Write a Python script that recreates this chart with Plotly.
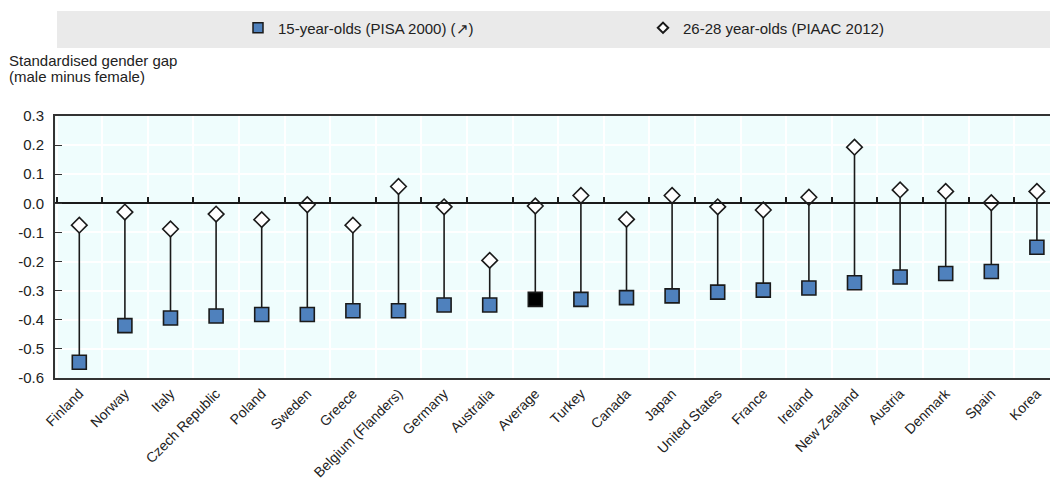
import plotly.graph_objects as go

categories = ["Finland", "Norway", "Italy", "Czech Republic", "Poland", "Sweden", "Greece",
              "Belgium (Flanders)", "Germany", "Australia", "Average", "Turkey", "Canada", "Japan",
              "United States", "France", "Ireland", "New Zealand", "Austria", "Denmark", "Spain", "Korea"]
pisa_2000 = [-0.546, -0.420, -0.394, -0.387, -0.382, -0.382, -0.369, -0.369, -0.349, -0.349,
             -0.330, -0.330, -0.324, -0.318, -0.305, -0.298, -0.291, -0.273, -0.253, -0.241, -0.234, -0.151]
piaac_2012 = [-0.075, -0.030, -0.088, -0.037, -0.056, -0.005, -0.075, 0.058, -0.012, -0.196,
              -0.009, 0.027, -0.055, 0.027, -0.012, -0.023, 0.021, 0.193, 0.046, 0.041, 0.002, 0.041]
y_ticks = [0.3, 0.2, 0.1, 0.0, -0.1, -0.2, -0.3, -0.4, -0.5, -0.6]
series_names = ["15-year-olds (PISA 2000) (\u2197)", "26-28 year-olds (PIAAC 2012)"]

FONT = "Liberation Sans Narrow, Arial Narrow, Liberation Sans, Arial, sans-serif"
BLUE = "#4F81BD"
INK = "#1a1a1a"
TXT = "#222222"

# figure geometry (pixels)
W, H = 1050, 478
ML, MT, MB = 55, 116, 100
PH = H - MT - MB
PW = W - ML


def py(pix):  # pixel y -> paper y
    return (H - MB - pix) / PH


def px(pix):  # pixel x -> paper x
    return (pix - ML) / PW


# stems
sx, sy = [], []
for c, a, b in zip(categories, pisa_2000, piaac_2012):
    sx += [c, c, None]
    sy += [a, b, None]

fig = go.Figure()
fig.add_trace(go.Scatter(x=sx, y=sy, mode="lines", line=dict(color=INK, width=1.6),
                         showlegend=False, hoverinfo="skip"))
sq_colors = ["#000000" if c == "Average" else BLUE for c in categories]
fig.add_trace(go.Scatter(x=categories, y=pisa_2000, mode="markers", name=series_names[0],
                         showlegend=False,
                         marker=dict(symbol="square", size=14, color=sq_colors,
                                     line=dict(color=INK, width=1.6))))
fig.add_trace(go.Scatter(x=categories, y=piaac_2012, mode="markers", name=series_names[1],
                         showlegend=False,
                         marker=dict(symbol="diamond", size=12, color="white",
                                     line=dict(color=INK, width=1.6))))
# legend-only entries (smaller symbols, as in the reference)
fig.add_trace(go.Scatter(x=[None], y=[None], mode="markers", name=series_names[0],
                         marker=dict(symbol="square", size=10, color=BLUE,
                                     line=dict(color=INK, width=1.5))))
fig.add_trace(go.Scatter(x=[None], y=[None], mode="markers", name=series_names[1],
                         marker=dict(symbol="diamond", size=8, color="white",
                                     line=dict(color=INK, width=2))))
# invisible trace on zero-line axis
fig.add_trace(go.Scatter(x=categories, y=[0] * len(categories), xaxis="x2", mode="markers",
                         marker=dict(opacity=0), showlegend=False, hoverinfo="skip"))

ymin, ymax = -0.6, 0.3
zero_frac = (0 - ymin) / (ymax - ymin)
cat_px = 45.6
x0 = -0.5 - 1.5 / cat_px
xrange = [x0, x0 + PW / cat_px]

fig.update_layout(
    width=W, height=H,
    margin=dict(l=ML, r=0, t=MT, b=MB, autoexpand=False),
    paper_bgcolor="white",
    plot_bgcolor="#EFFDFD",
    font=dict(family=FONT, size=15, color=TXT),
    showlegend=True,
    legend=dict(orientation="h", x=px(238), xanchor="left",
                y=py(28), yanchor="middle",
                bgcolor="rgba(0,0,0,0)", entrywidth=360, entrywidthmode="pixels",
                font=dict(family=FONT, size=15, color=TXT),
                itemsizing="trace", traceorder="normal"),
    xaxis=dict(type="category", categoryorder="array", categoryarray=categories,
               range=xrange, automargin=False,
               tickangle=-45, tickson="boundaries", ticks="", showgrid=True,
               gridcolor="white", gridwidth=1.5,
               showline=True, linecolor="#333333", linewidth=2, mirror=True,
               tickfont=dict(family=FONT, size=14, color=TXT),
               zeroline=False),
    xaxis2=dict(type="category", categoryorder="array", categoryarray=categories,
                range=xrange, overlaying="x", anchor="free",
                position=zero_frac, side="bottom", showticklabels=False,
                tickson="boundaries", ticks="inside", ticklen=5, tickwidth=1.5,
                tickcolor=INK, showline=True, linecolor=INK, linewidth=2,
                showgrid=False, zeroline=False),
    yaxis=dict(range=[ymin, ymax], tickvals=y_ticks, automargin=False,
               ticktext=[f"{v:.1f}" for v in y_ticks],
               ticks="inside", ticklen=7, tickcolor="#333333", ticklabelstandoff=6,
               showgrid=True, gridcolor="white", gridwidth=1.5,
               showline=True, linecolor="#333333", linewidth=2, mirror=False,
               zeroline=False, tickfont=dict(family=FONT, size=15, color=TXT)),
)

# legend background band
fig.add_shape(type="rect", xref="paper", yref="paper",
              x0=px(57), x1=1.0, y0=py(48), y1=py(11),
              fillcolor="#EAEAEA", line=dict(width=0), layer="below")

for line, ypix in zip(["Standardised gender gap", "(male minus female)"], [60, 77]):
    fig.add_annotation(xref="paper", yref="paper", x=px(7), y=py(ypix),
                       xanchor="left", yanchor="middle", align="left", showarrow=False,
                       text=line, font=dict(family=FONT, size=15, color=TXT))

fig.write_html("out.html", config={"displayModeBar": False},
               post_script="document.body.style.margin='0';document.body.style.overflow='hidden';")
